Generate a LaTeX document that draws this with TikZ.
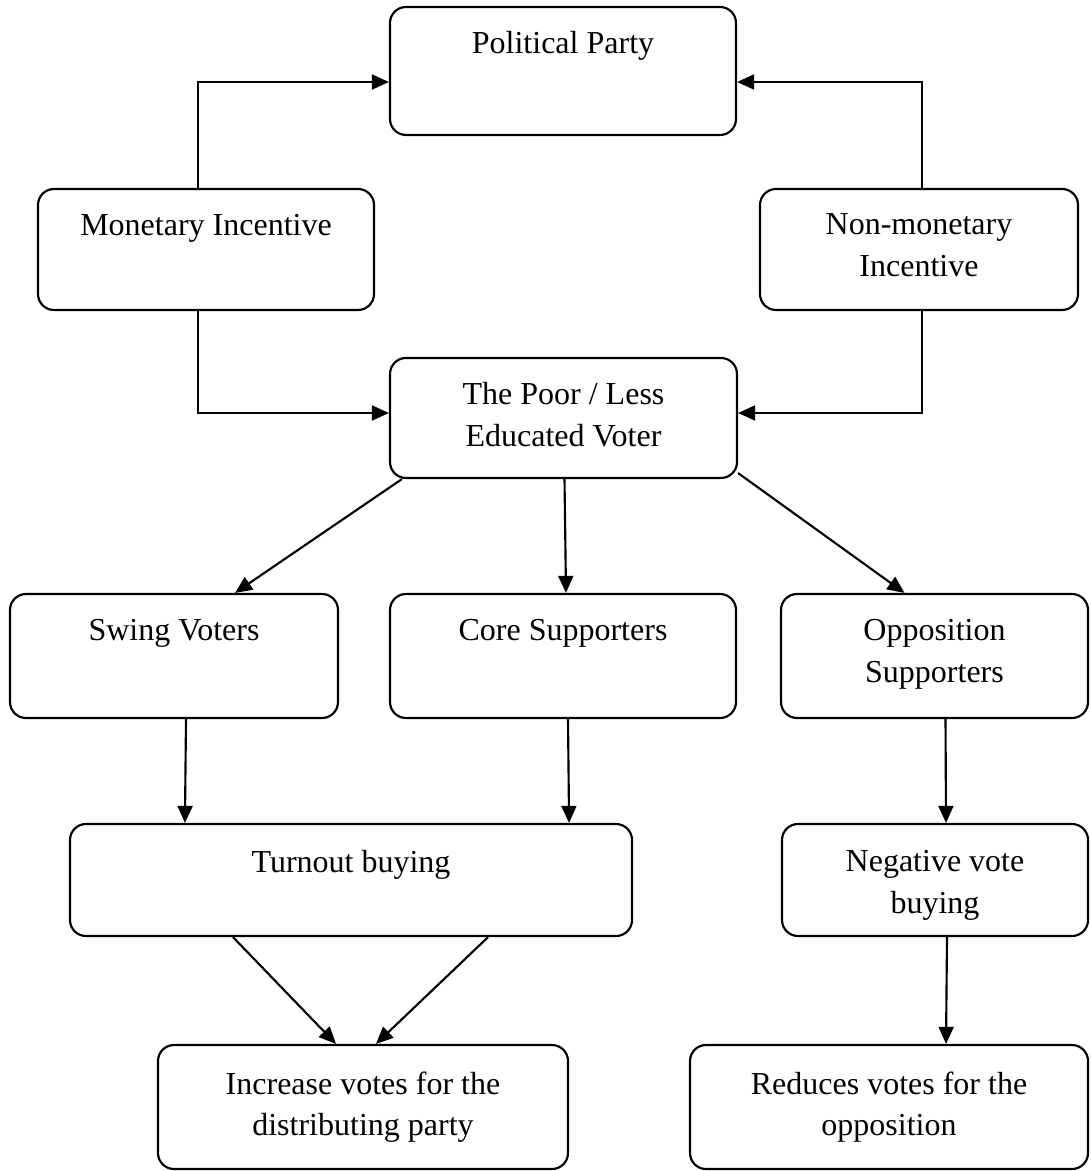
\documentclass[tikz,border=0pt]{standalone}
\usepackage{fontspec}
\setmainfont{Liberation Serif}
\usetikzlibrary{arrows.meta,fit,calc}
\tikzset{
  box/.style={draw, line width=0.8pt, rounded corners=6pt, inner sep=0pt},
  lbl/.style={anchor=north, inner sep=0pt, align=center, font=\fontsize{12}{15.6}\selectfont},
  arr/.style={line width=0.8pt, -{Triangle[length=6.4pt,width=5.6pt]}},
}
\begin{document}
\begin{tikzpicture}[x=0.375pt, y=-0.375pt]
\useasboundingbox (0,0) rectangle (1090,1171);
% boxes
\node[box, fit={(390,7) (736,135)}] (pp) {};
\node[box, fit={(38,189) (374,310)}] (mi) {};
\node[box, fit={(760,189) (1078,310)}] (nm) {};
\node[box, fit={(390,358) (737,478)}] (pv) {};
\node[box, fit={(10,594) (338,718)}] (sw) {};
\node[box, fit={(390,594) (736,718)}] (co) {};
\node[box, fit={(781,594) (1088,718)}] (op) {};
\node[box, fit={(70,824) (632,936)}] (tb) {};
\node[box, fit={(782,824) (1088,936)}] (nv) {};
\node[box, fit={(158,1045) (568,1169)}] (iv) {};
\node[box, fit={(690,1045) (1088,1169)}] (rv) {};
% texts
\node[lbl] (pp-t) at ($(pp.north)+(0,25)$) {Political Party};
\node[lbl] (mi-t) at ($(mi.north)+(0,26)$) {Monetary Incentive};
\node[lbl] (nm-t) at ($(nm.north)+(0,25)$) {Non-monetary\\Incentive};
\node[lbl] (pv-t) at ($(pv.north)+(0,25)$) {The Poor / Less\\Educated Voter};
\node[lbl] (sw-t) at ($(sw.north)+(0,26)$) {Swing Voters};
\node[lbl] (co-t) at ($(co.north)+(0,26)$) {Core Supporters};
\node[lbl] (op-t) at ($(op.north)+(0,26)$) {Opposition\\Supporters};
\node[lbl] (tb-t) at ($(tb.north)+(0,27)$) {Turnout buying};
\node[lbl] (nv-t) at ($(nv.north)+(0,27)$) {Negative vote\\buying};
\node[lbl] (iv-t) at ($(iv.north)+(0,27)$) {Increase votes for the\\distributing party};
\node[lbl] (rv-t) at ($(rv.north)+(0,27)$) {Reduces votes for the\\opposition};
% connectors
\draw[arr] ($(mi.north)+(-8,0)$) |- ($(pp.west)+(0,11)$);
\draw[arr] ($(nm.north)+(3,0)$) |- ($(pp.east)+(0,11)$);
\draw[arr] ($(mi.south)+(-8,0)$) |- ($(pv.west)+(0,-5)$);
\draw[arr] ($(nm.south)+(3,0)$) |- ($(pv.east)+(0,-5)$);
\draw[arr] ($(pv.south west)+(13,0)$) -- ($(sw.north)+(61,0)$);
\draw[arr] ($(pv.south)+(1,0)$) -- ($(co.north)+(3,0)$);
\draw[arr] ($(pv.south east)+(0,-6)$) -- ($(op.north)+(-30,0)$);
\draw[arr] ($(sw.south)+(12,0)$) -- ($(tb.north west)+(116,0)$);
\draw[arr] ($(co.south)+(5,0)$) -- ($(tb.north east)+(-64,0)$);
\draw[arr] ($(op.south)+(11,0)$) -- ($(nv.north)+(11,0)$);
\draw[arr] ($(tb.south west)+(164,0)$) -- ($(iv.north)+(-27,0)$);
\draw[arr] ($(tb.south east)+(-145,0)$) -- ($(iv.north)+(13,0)$);
\draw[arr] ($(nv.south)+(12,0)$) -- ($(rv.north)+(57,0)$);
\end{tikzpicture}
\end{document}
